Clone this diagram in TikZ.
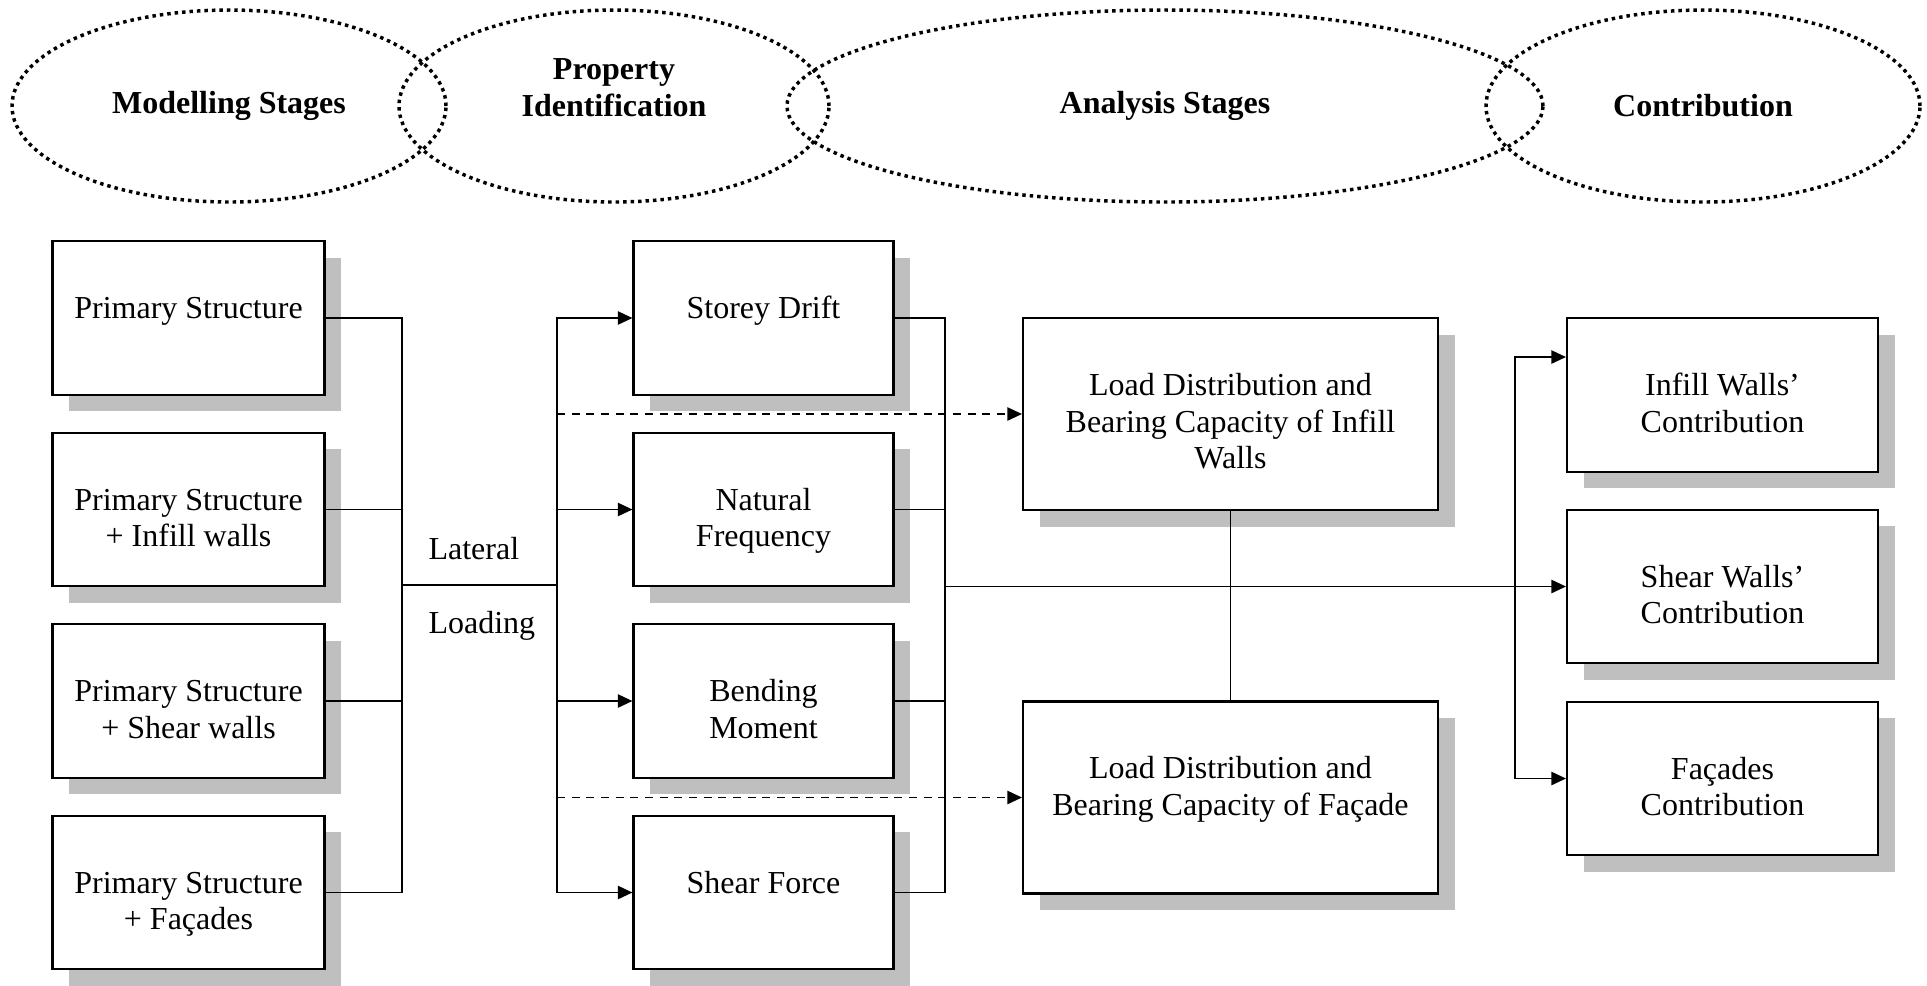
\documentclass[tikz,border=0pt]{standalone}
\usepackage{fontspec}
\setmainfont{Liberation Serif}
\usetikzlibrary{arrows.meta}
\usetikzlibrary{shapes.geometric}
\usetikzlibrary{shadows}

\newcommand{\txtsize}{\fontsize{12pt}{13.8pt}\selectfont}

\tikzset{
  box/.style 2 args={draw, line width=0.8pt, fill=white, inner sep=0pt,
    drop shadow={shadow xshift=6.2pt, shadow yshift=-6.2pt, fill=black!25, opacity=1},
    execute at begin node={\begin{minipage}[c][#2][t]{#1}\centering\rule{0pt}{29pt}},
    execute at end node={\end{minipage}}},
  leftbox/.style={box={102pt}{57.5pt}},
  midbox/.style={box={97.5pt}{57.5pt}},
  loadbox/.style={box={155.6pt}{72pt}},
  outbox/.style={box={116.6pt}{57.5pt}},
  stage/.style={ellipse, draw, line width=1.3pt, dash pattern=on 1.3pt off 1.5pt,
    minimum width=162.75pt, minimum height=72pt, inner sep=0pt, align=center,
    font=\txtsize\bfseries},
  link/.style={line width=0.65pt},
  arr/.style={link, -{Triangle[length=5.5pt,width=5pt]}},
  dsh/.style={arr, dash pattern=on 3pt off 2.5pt},
}

\begin{document}
\begin{tikzpicture}[x=0.375pt, y=-0.375pt, font=\txtsize]
  \useasboundingbox (0,0) rectangle (1927,985);

  % stage headings
  \node[stage] (mod) at (229,106) {Modelling Stages};
  \node[stage, minimum width=161.25pt] (prop) at (614,106) {Property\\Identification\\~};
  \node[stage, minimum width=283.5pt] (ana) at (1165,106) {Analysis Stages};
  \node[stage] (con) at (1703,106) {Contribution};

  % models
  \foreach \nm/\yy/\txt in {ps/318/{Primary Structure},
      psi/509.5/{Primary Structure\\+ Infill walls},
      pss/701/{Primary Structure\\+ Shear walls},
      psf/892.5/{Primary Structure\\+ Façades}}
    \node[leftbox] (\nm) at (188.5,\yy) {\txt};

  % properties
  \foreach \nm/\yy/\txt in {sd/318/{Storey Drift},
      nf/509.5/{Natural\\Frequency},
      bm/701/{Bending\\Moment},
      sf/892.5/{Shear Force}}
    \node[midbox] (\nm) at (763.5,\yy) {\txt};

  % analysis
  \node[loadbox] (ldi) at (1230.5,414) {Load Distribution and\\Bearing Capacity of Infill\\Walls};
  \node[loadbox] (ldf) at (1230.5,797.5) {Load Distribution and\\Bearing Capacity of Façade};

  % contribution
  \node[outbox] (iwc) at (1722.5,395) {Infill Walls’\\Contribution};
  \node[outbox] (swc) at (1722.5,586.5) {Shear Walls’\\Contribution};
  \node[outbox] (fc) at (1722.5,778.5) {Façades\\Contribution};

  \coordinate (jl) at (402,585);
  \coordinate (jm) at (557,585);
  \coordinate (jr) at (945,586.5);
  \coordinate (jc) at (1515,586.5);

  \node[anchor=base west, inner sep=0pt] (lat) at (428,559) {Lateral};
  \node[anchor=base west, inner sep=0pt] (lod) at (428,633) {Loading};

  \foreach \nm in {ps,psi,pss,psf}
    \draw[link] (\nm.east) -| (jl);
  \draw[link] (jl) -- (jm);

  \foreach \nm in {sd,nf,bm,sf} {
    \draw[arr] (jm) |- (\nm.west);
    \draw[link] (\nm.east) -| (jr);
  }

  \draw[dsh] (ldi.west -| jm) -- (ldi.west);
  \draw[dsh] (ldf.west -| jm) -- (ldf.west);
  \draw[link] (ldi.south) -- (ldf.north);

  \draw[arr] (jr) -- (swc.west);
  \draw[arr] (jc) |- ([yshift=14.25pt]iwc.west);
  \draw[arr] (jc) |- (fc.west);

\end{tikzpicture}
\end{document}
